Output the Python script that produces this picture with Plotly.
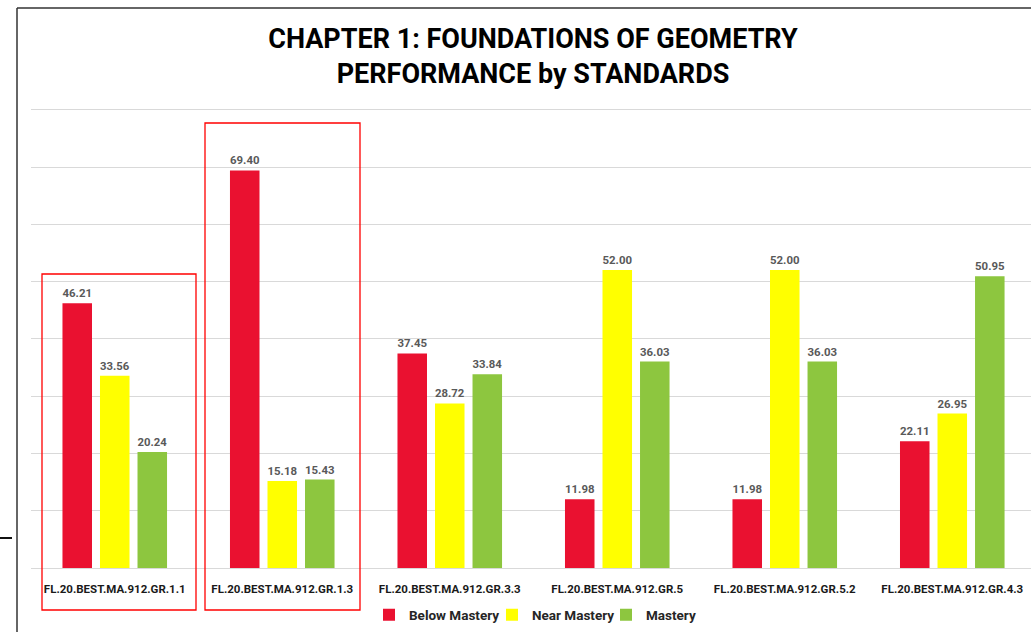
import plotly.graph_objects as go

categories = ["FL.20.BEST.MA.912.GR.1.1", "FL.20.BEST.MA.912.GR.1.3", "FL.20.BEST.MA.912.GR.3.3",
              "FL.20.BEST.MA.912.GR.5", "FL.20.BEST.MA.912.GR.5.2", "FL.20.BEST.MA.912.GR.4.3"]
below_mastery = [46.21, 69.40, 37.45, 11.98, 11.98, 22.11]
near_mastery = [33.56, 15.18, 28.72, 52.00, 52.00, 26.95]
mastery = [20.24, 15.43, 33.84, 36.03, 36.03, 50.95]

series = [("Below Mastery", below_mastery, "#EA1130", 78),
          ("Near Mastery", near_mastery, "#FFFF00", 69),
          ("Mastery", mastery, "#8DC63F", 60)]

fig = go.Figure()
for name, vals, color, lw in series:
    fig.add_trace(go.Bar(
        name=name, x=list(range(len(categories))), y=vals,
        marker=dict(color=color, line=dict(width=0)),
        text=[f"{v:.2f}" for v in vals], textposition="outside",
        textfont=dict(family="Roboto", size=15, color="#595959", weight="bold"),
        cliponaxis=False, legendwidth=lw,
    ))

YMAX = 81.0
UNIT = (568 - 110) / 80.0  # px per value unit in the reference
W, H = 1031, 632
L, R = 31, 0
T = round(568 - YMAX * UNIT)
B = H - 568
PW, PH = W - L - R, H - T - B

def px(p):  # page x pixel -> paper
    return (p - L) / PW

def py(p):  # page y pixel -> paper
    return (H - B - p) / PH

fig.update_layout(
    width=W, height=H,
    margin=dict(l=L, r=R, t=T, b=B, pad=0),
    paper_bgcolor="white", plot_bgcolor="white",
    barmode="group", bargap=0.328, bargroupgap=0.213,
    title=dict(text="CHAPTER 1: FOUNDATIONS OF GEOMETRY<br>PERFORMANCE by STANDARDS",
               x=533 / W, xanchor="center", y=1 - 48 / H, yanchor="middle",
               font=dict(family="Roboto", size=27, color="#000000", weight="bold")),
    font=dict(family="Roboto"),
    showlegend=True,
    legend=dict(orientation="h", x=px(369), xanchor="left", y=py(615), yanchor="middle",
                font=dict(family="Roboto", size=13.5, color="#262626", weight="bold"),
                itemwidth=30, traceorder="normal", bgcolor="rgba(0,0,0,0)"),
    xaxis=dict(tickmode="array", tickvals=list(range(len(categories))), ticktext=categories,
               range=[-0.5, 5.47], showgrid=False, zeroline=False, showline=False,
               ticks="", ticklabelstandoff=12,
               tickfont=dict(family="Roboto", size=11.5, color="#1a1a1a", weight="bold")),
    yaxis=dict(range=[0, YMAX], dtick=10, showticklabels=False, showgrid=True,
               gridcolor="#D9D9D9", gridwidth=1, zeroline=True, zerolinecolor="#D9D9D9",
               zerolinewidth=1, showline=False, ticks=""),
)

shapes = [
    dict(type="rect", xref="paper", yref="paper", x0=px(42), x1=px(196), y0=py(610), y1=py(274),
         line=dict(color="#FF0000", width=1.3), fillcolor="rgba(0,0,0,0)"),
    dict(type="rect", xref="paper", yref="paper", x0=px(205), x1=px(360), y0=py(610), y1=py(123),
         line=dict(color="#FF0000", width=1.3), fillcolor="rgba(0,0,0,0)"),
    dict(type="line", xref="paper", yref="paper", x0=px(17), x1=px(17), y0=py(8), y1=py(640),
         line=dict(color="#333333", width=1.5)),
    dict(type="line", xref="paper", yref="paper", x0=px(17), x1=px(1040), y0=py(8), y1=py(8),
         line=dict(color="#333333", width=1.5)),
    dict(type="line", xref="paper", yref="paper", x0=px(0), x1=px(12), y0=py(538), y1=py(538),
         line=dict(color="#111111", width=2)),
]
fig.update_layout(shapes=shapes)

fig.write_html("out.html", config={"displayModeBar": False},
               post_script="document.body.style.margin='0';")
